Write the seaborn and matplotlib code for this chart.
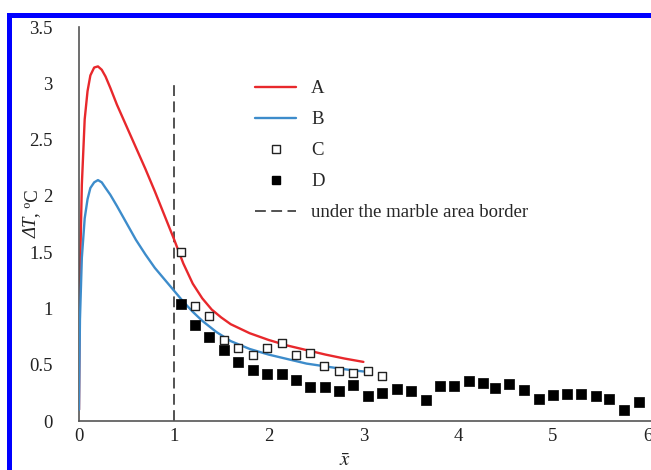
import matplotlib
matplotlib.use("Agg")
import matplotlib.pyplot as plt
from matplotlib.patches import Rectangle
from matplotlib.lines import Line2D
import seaborn as sns
import pandas as pd

# curve A (red) and B (blue)
a_x = [0.0, 0.01, 0.03, 0.06, 0.09, 0.12, 0.16, 0.20, 0.24, 0.28, 0.33, 0.40, 0.50, 0.60,
       0.70, 0.80, 0.90, 1.00, 1.10, 1.20, 1.30, 1.40, 1.50, 1.60, 1.80, 2.00, 2.20, 2.40,
       2.60, 2.80, 3.00]
a_y = [0.10, 1.30, 2.10, 2.68, 2.93, 3.07, 3.14, 3.15, 3.12, 3.06, 2.96, 2.81, 2.62, 2.43,
       2.24, 2.04, 1.83, 1.62, 1.40, 1.22, 1.09, 0.99, 0.92, 0.86, 0.78, 0.72, 0.67, 0.63,
       0.59, 0.555, 0.525]

b_x = [0.0, 0.01, 0.03, 0.06, 0.09, 0.12, 0.16, 0.20, 0.24, 0.28, 0.33, 0.40, 0.50, 0.60,
       0.70, 0.80, 0.90, 1.00, 1.10, 1.20, 1.30, 1.45, 1.60, 1.80, 2.00, 2.20, 2.40, 2.60,
       2.80, 3.00]
b_y = [0.10, 0.90, 1.45, 1.80, 1.97, 2.07, 2.12, 2.14, 2.12, 2.07, 2.01, 1.91, 1.76, 1.61,
       1.48, 1.36, 1.26, 1.16, 1.06, 0.97, 0.89, 0.79, 0.71, 0.64, 0.59, 0.55, 0.51, 0.485,
       0.46, 0.44]

# series C (open squares)
c_x = [1.08, 1.22, 1.37, 1.53, 1.68, 1.84, 1.98, 2.14, 2.29, 2.44, 2.58, 2.74, 2.89, 3.05, 3.20]
c_y = [1.50, 1.02, 0.93, 0.72, 0.65, 0.59, 0.65, 0.69, 0.59, 0.60, 0.49, 0.44, 0.43, 0.44, 0.40]

# series D (filled squares)
d_x = [1.08, 1.22, 1.37, 1.53, 1.68, 1.84, 1.98, 2.14, 2.29, 2.44, 2.59, 2.74, 2.89, 3.05,
       3.20, 3.35, 3.50, 3.66, 3.81, 3.96, 4.11, 4.26, 4.39, 4.54, 4.69, 4.85, 5.00, 5.15,
       5.30, 5.45, 5.59, 5.75, 5.91]
d_y = [1.04, 0.85, 0.75, 0.63, 0.52, 0.45, 0.42, 0.42, 0.36, 0.30, 0.30, 0.27, 0.32, 0.22,
       0.25, 0.28, 0.27, 0.19, 0.31, 0.31, 0.355, 0.34, 0.29, 0.33, 0.275, 0.195, 0.23, 0.24,
       0.24, 0.22, 0.195, 0.10, 0.17]

border_x = 1.0
border_top = 3.0

x_ticks = [0, 1, 2, 3, 4, 5, 6]
y_ticks = [0, 0.5, 1, 1.5, 2, 2.5, 3, 3.5]
y_ticklabels = ["0", "0.5", "1", "1.5", "2", "2.5", "3", "3.5"]

sns.set_style("white")
plt.rcParams["font.family"] = ["Liberation Serif", "DejaVu Serif"]
plt.rcParams["mathtext.fontset"] = "stix"

W, H = 651, 470
fig = plt.figure(figsize=(W / 100, H / 100), dpi=100)
ax = fig.add_axes([79 / W, 49 / H, (W - 79) / W, 394 / H])

red = "#e8282c"
blue = "#3d8ccb"
spine_c = "#555555"
txt_c = "#222222"

dfa = pd.DataFrame({"x": a_x, "y": a_y})
dfb = pd.DataFrame({"x": b_x, "y": b_y})
dfc = pd.DataFrame({"x": c_x, "y": c_y})
dfd = pd.DataFrame({"x": d_x, "y": d_y})

sns.lineplot(data=dfa, x="x", y="y", ax=ax, color=red, lw=1.7, sort=False, zorder=2)
sns.lineplot(data=dfb, x="x", y="y", ax=ax, color=blue, lw=1.7, sort=False, zorder=3)
ax.plot([border_x, border_x], [0, border_top], color="#444444", lw=1.3,
        dashes=(6, 3), zorder=1)
sns.scatterplot(data=dfc, x="x", y="y", ax=ax, marker="s", s=40, facecolor="white",
                edgecolor=txt_c, linewidth=1.0, zorder=5)
sns.scatterplot(data=dfd, x="x", y="y", ax=ax, marker="s", s=55, color="black",
                edgecolor="black", linewidth=0.5, zorder=5)

ax.set_xlim(0, (W - 79) / 94.8)
ax.set_ylim(0, 3.5)
ax.set_xticks(x_ticks)
ax.set_xticklabels([str(t) for t in x_ticks])
ax.set_yticks(y_ticks)
ax.set_yticklabels(y_ticklabels)
ax.tick_params(axis="both", direction="in", length=4, width=1, color=spine_c,
               labelsize=13.5, labelcolor=txt_c)
ax.tick_params(axis="y", pad=19)
ax.tick_params(axis="x", pad=5)
for s in ["top", "right"]:
    ax.spines[s].set_visible(False)
for s in ["left", "bottom"]:
    ax.spines[s].set_color(spine_c)
    ax.spines[s].set_linewidth(1.2)
ax.set_xlabel("")
ax.set_ylabel("")

# y label: italic "ΔT" then upright ", ºC", rotated
yl_x, yl_split = 37 / W, 1 - 217 / H
fig.text(yl_x, yl_split, "ΔT", rotation=90, rotation_mode="anchor", ha="right",
         va="baseline", fontsize=13.5, fontstyle="italic", color=txt_c)
fig.text(yl_x, yl_split, ", ºC", rotation=90, rotation_mode="anchor", ha="left",
         va="baseline", fontsize=13.5, color=txt_c)
fig.text(345 / W, 1 - 462 / H, r"$\bar{x}$", ha="center", va="center", fontsize=15,
         color=txt_c)

handles = [
    Line2D([], [], color=red, lw=1.7),
    Line2D([], [], color=blue, lw=1.7),
    Line2D([], [], ls="none", marker="s", ms=5.5, mfc="white", mec=txt_c, mew=1.0),
    Line2D([], [], ls="none", marker="s", ms=5.5, mfc="black", mec="black"),
    Line2D([], [], color="#444444", lw=1.3, dashes=(6, 3)),
]
labels = ["A", "B", "C", "D", "under the marble area border"]
fig.legend(handles, labels, loc="upper left", bbox_to_anchor=(255 / W, 1 - 80 / H),
           frameon=False, fontsize=13.5, handlelength=2.2, handletextpad=0.8,
           labelspacing=0.74, borderaxespad=0, borderpad=0)

# blue frame round the picture (only top and left are visible)
fig.add_artist(Rectangle((7 / W, 1 - 18 / H), 1 - 7 / W, 5 / H, transform=fig.transFigure,
                         color="#0000ff", lw=0, zorder=10))
fig.add_artist(Rectangle((7 / W, 0), 5 / W, 1 - 13 / H, transform=fig.transFigure,
                         color="#0000ff", lw=0, zorder=10))

fig.savefig("out.png", dpi=100, facecolor="white")
